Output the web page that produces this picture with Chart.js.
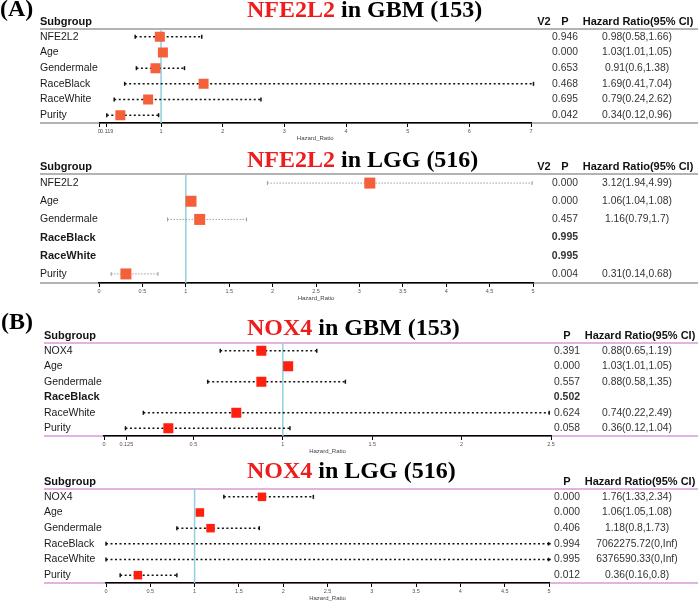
<!DOCTYPE html>
<html>
<head>
<meta charset="utf-8">
<script src="https://cdn.jsdelivr.net/npm/chart.js@4.4.0/dist/chart.umd.min.js"></script>
<style>
  body { margin: 0; background: #fff; }
  #wrap { position: relative; width: 698px; height: 603px; overflow: hidden; }
  #wrap canvas { position: absolute; left: 0; }
  .ttl { position: absolute; font: bold 24px 'Liberation Serif', 'Times New Roman', serif; line-height: 24px; white-space: nowrap; color: #000; z-index: 2; }
  .ttl .g { color: #ee1c1c; }
</style>
</head>
<body>
<div id="wrap">
  <div class="ttl" style="left:0;top:-4px">(A)</div>
  <div class="ttl" style="left:247px;top:-3px"><span class="g">NFE2L2</span> in GBM (153)</div>
  <div class="ttl" style="left:247px;top:147px"><span class="g">NFE2L2</span> in LGG (516)</div>
  <div class="ttl" style="left:1px;top:309px">(B)</div>
  <div class="ttl" style="left:247px;top:315px"><span class="g">NOX4</span> in GBM (153)</div>
  <div class="ttl" style="left:247px;top:458px"><span class="g">NOX4</span> in LGG (516)</div>
  <canvas id="nfeGbm"></canvas>
  <canvas id="nfeLgg"></canvas>
  <canvas id="noxGbm"></canvas>
  <canvas id="noxLgg"></canvas>
</div>
<script>
const nfeSubgroups = ['NFE2L2', 'Age', 'Gendermale', 'RaceBlack', 'RaceWhite', 'Purity'];
const noxSubgroups = ['NOX4', 'Age', 'Gendermale', 'RaceBlack', 'RaceWhite', 'Purity'];

// NFE2L2 in GBM
const nfeGbmHR = [0.98, 1.03, 0.91, 1.69, 0.79, 0.34];
const nfeGbmLo = [0.58, 1.01, 0.6, 0.41, 0.24, 0.12];
const nfeGbmHi = [1.66, 1.05, 1.38, 7.04, 2.62, 0.96];
const nfeGbmP = ['0.946', '0.000', '0.653', '0.468', '0.695', '0.042'];
const nfeGbmTicks = [0, 0.119, 1, 2, 3, 4, 5, 6, 7];

// NFE2L2 in LGG
const nfeLggHR = [3.12, 1.06, 1.16, null, null, 0.31];
const nfeLggLo = [1.94, 1.04, 0.79, null, null, 0.14];
const nfeLggHi = [4.99, 1.08, 1.7, null, null, 0.68];
const nfeLggP = ['0.000', '0.000', '0.457', '0.995', '0.995', '0.004'];
const nfeLggTicks = [0, 0.5, 1, 1.5, 2, 2.5, 3, 3.5, 4, 4.5, 5];

// NOX4 in GBM
const noxGbmHR = [0.88, 1.03, 0.88, null, 0.74, 0.36];
const noxGbmLo = [0.65, 1.01, 0.58, null, 0.22, 0.12];
const noxGbmHi = [1.19, 1.05, 1.35, null, 2.49, 1.04];
const noxGbmP = ['0.391', '0.000', '0.557', '0.502', '0.624', '0.058'];
const noxGbmTicks = [0, 0.125, 0.5, 1, 1.5, 2, 2.5];

// NOX4 in LGG
const noxLggHR = [1.76, 1.06, 1.18, 7062275.72, 6376590.33, 0.36];
const noxLggLo = [1.33, 1.05, 0.8, 0, 0, 0.16];
const noxLggHi = [2.34, 1.08, 1.73, Infinity, Infinity, 0.8];
const noxLggP = ['0.000', '0.000', '0.406', '0.994', '0.995', '0.012'];
const noxLggTicks = [0, 0.5, 1, 1.5, 2, 2.5, 3, 3.5, 4, 4.5, 5];

const SANS = "'Liberation Sans', Arial, Helvetica, sans-serif";
const PAD_TOP = 20;
const AXIS_H = 19;

function fmt(v) {
  return isFinite(v) ? String(v) : 'Inf';
}

function makeTable(p) {
  return {
    id: 'table',
    beforeDraw(chart) {
      const { ctx, chartArea: a } = chart;
      ctx.save();
      ctx.strokeStyle = p.rule;
      ctx.lineWidth = 1.5;
      ctx.beginPath();
      ctx.moveTo(p.labelX, a.top); ctx.lineTo(698, a.top);
      ctx.moveTo(p.labelX, a.bottom); ctx.lineTo(698, a.bottom);
      ctx.stroke();
      ctx.restore();
    },
    beforeDatasetsDraw(chart) {
      const { ctx, chartArea: a, scales: { x } } = chart;
      const rx = x.getPixelForValue(1);
      ctx.save();
      ctx.strokeStyle = '#8fd0dc';
      ctx.lineWidth = 1.5;
      ctx.beginPath();
      ctx.moveTo(rx, a.top); ctx.lineTo(rx, a.bottom);
      ctx.stroke();
      ctx.restore();
    },
    afterDraw(chart) {
      const { ctx, chartArea: a, scales: { y } } = chart;
      ctx.save();
      ctx.textBaseline = 'middle';
      ctx.fillStyle = '#111';
      // header row
      const hy = a.top - 7;
      ctx.font = 'bold 11px ' + SANS;
      ctx.textAlign = 'left';
      ctx.fillText('Subgroup', p.labelX, hy);
      ctx.textAlign = 'center';
      if (p.v2) ctx.fillText('V2', p.v2, hy);
      ctx.fillText('P', p.pX, hy);
      ctx.fillText('Hazard Ratio(95% CI)', p.hrHeadX, hy);
      // rows
      p.labels.forEach((lab, i) => {
        const ry = y.getPixelForValue(i + 0.5);
        const bold = p.hr[i] === null;
        ctx.fillStyle = '#1a1a1a';
        ctx.font = (bold ? 'bold 11px ' : '10.5px ') + SANS;
        ctx.textAlign = 'left';
        ctx.fillText(lab, p.labelX, ry);
        ctx.fillStyle = '#333';
        ctx.font = (bold ? 'bold 10.5px ' : '10.3px ') + SANS;
        ctx.textAlign = 'center';
        ctx.fillText(p.pv[i], p.pX, ry);
        if (!bold) {
          ctx.font = '10.3px ' + SANS;
          ctx.fillText(fmt(p.hr[i]) + '(' + fmt(p.lo[i]) + ',' + fmt(p.hi[i]) + ')', p.hrX, ry);
        }
      });
      ctx.restore();
    }
  };
}

function forest(id, p) {
  const cv = document.getElementById(id);
  cv.width = 698;
  cv.height = (p.bottom - p.top) + PAD_TOP + AXIS_H;
  cv.style.top = (p.top - PAD_TOP) + 'px';

  const squares = [];
  p.hr.forEach((v, i) => { if (v !== null) squares.push({ x: v, y: i + 0.5 }); });

  const datasets = [{
    type: 'scatter',
    data: squares,
    pointStyle: 'rect',
    pointRadius: p.box / Math.SQRT2,
    pointBackgroundColor: p.boxColor,
    pointBorderWidth: 0
  }];

  p.hr.forEach((v, i) => {
    if (v === null) return;
    const inf = !isFinite(p.hi[i]);
    const hi = inf ? p.max : p.hi[i];
    datasets.push({
      type: 'line',
      data: [{ x: p.lo[i], y: i + 0.5 }, { x: hi, y: i + 0.5 }],
      borderColor: p.ciColor,
      borderWidth: p.ciWidth,
      borderDash: p.dash,
      pointStyle: ['line', inf ? 'triangle' : 'line'],
      pointRotation: 90,
      pointRadius: [2, 2],
      pointBorderColor: p.ciColor,
      pointBackgroundColor: p.ciColor,
      pointBorderWidth: [p.ciWidth, inf ? 0.5 : p.ciWidth],
      clip: false
    });
  });

  return new Chart(cv, {
    data: { datasets },
    options: {
      responsive: false,
      animation: false,
      events: [],
      layout: { padding: { left: p.x0, right: 698 - p.x1, top: PAD_TOP, bottom: 0 } },
      plugins: { legend: { display: false }, tooltip: { enabled: false } },
      scales: {
        x: {
          type: 'linear',
          min: 0,
          max: p.max,
          afterBuildTicks: s => { s.ticks = p.ticks.map(v => ({ value: v })); },
          afterFit: s => { s.height = AXIS_H; },
          ticks: {
            autoSkip: false, maxRotation: 0, padding: 1,
            font: { size: 5.5, family: SANS }, color: '#555',
            callback: v => String(v)
          },
          grid: { drawOnChartArea: false, drawTicks: true, tickLength: 4, color: '#000', lineWidth: 1 },
          border: { display: true, color: '#000', width: 1.5 },
          title: { display: true, text: 'Hazard_Ratio', font: { size: 6, family: SANS }, color: '#444', padding: 0 }
        },
        y: { type: 'linear', min: 0, max: 6, reverse: true, display: false }
      }
    },
    plugins: [makeTable(p)]
  });
}

const groupA = { labelX: 40, rule: '#9a9a9a', boxColor: '#f4603a', v2: 544, pX: 565, hrHeadX: 638, hrX: 637 };
const groupB = { labelX: 44, rule: '#d89ad8', boxColor: '#ff1f0f', v2: null, pX: 567, hrHeadX: 640, hrX: 637 };

forest('nfeGbm', Object.assign({}, groupA, {
  top: 29, bottom: 123, x0: 99.4, x1: 531, max: 7, ticks: nfeGbmTicks,
  labels: nfeSubgroups, hr: nfeGbmHR, lo: nfeGbmLo, hi: nfeGbmHi, pv: nfeGbmP,
  box: 10, ciColor: '#111', ciWidth: 1.5, dash: [2, 2.5]
}));

forest('nfeLgg', Object.assign({}, groupA, {
  top: 174, bottom: 283, x0: 99, x1: 533, max: 5, ticks: nfeLggTicks,
  labels: nfeSubgroups, hr: nfeLggHR, lo: nfeLggLo, hi: nfeLggHi, pv: nfeLggP,
  box: 11, ciColor: '#888', ciWidth: 0.8, dash: [1.5, 1.5]
}));

forest('noxGbm', Object.assign({}, groupB, {
  top: 343, bottom: 436, x0: 104, x1: 551, max: 2.5, ticks: noxGbmTicks,
  labels: noxSubgroups, hr: noxGbmHR, lo: noxGbmLo, hi: noxGbmHi, pv: noxGbmP,
  box: 10, ciColor: '#111', ciWidth: 1.5, dash: [2, 2.5]
}));

forest('noxLgg', Object.assign({}, groupB, {
  top: 489, bottom: 583, x0: 106, x1: 549, max: 5, ticks: noxLggTicks,
  labels: noxSubgroups, hr: noxLggHR, lo: noxLggLo, hi: noxLggHi, pv: noxLggP,
  box: 8.5, ciColor: '#111', ciWidth: 1.5, dash: [2, 2.5]
}));
</script>
</body>
</html>
